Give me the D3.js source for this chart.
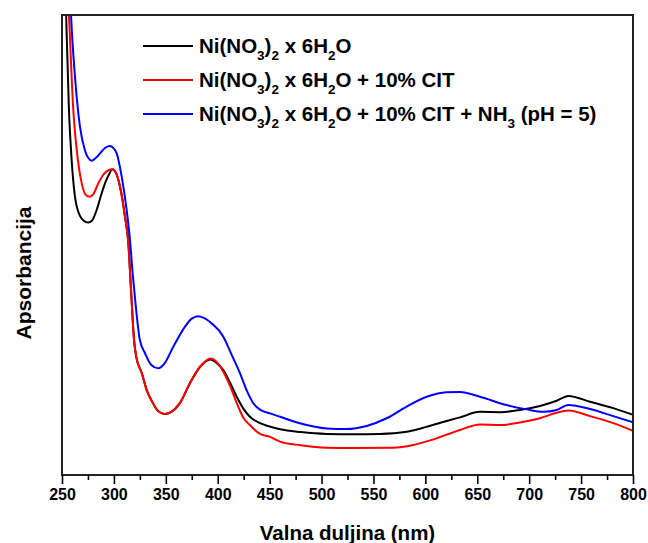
<!DOCTYPE html>
<html>
  <head>
    <meta charset="utf-8">
    <script type="text/javascript" src="https://cdn.jsdelivr.net/npm/d3@7/dist/d3.min.js"></script>
    <style>
      body { margin: 0; background: #fff; }
      text { font-family: "Liberation Sans", Arial, sans-serif; font-weight: bold; fill: #000; }
    </style>
  </head>
  <body>
    <div id="chart"></div>
  </body>
  <script>
  (function (d3) {
    'use strict';

    // wavelengths (nm) and absorbance
    var wlPure = [252, 254, 256.7, 259.3, 262.5, 265, 267.3, 271, 275.3, 279, 283.4, 287, 291.4, 295, 298.4, 302, 305.9, 310.7, 313.9, 316.5, 319.4, 321.5, 326.8, 331.6, 337.7, 341, 345, 349, 355, 363.7, 373.3, 383, 393, 400, 405.4, 412, 418.3, 425, 431, 440.7, 450, 460, 480, 505, 530, 556, 582, 601, 620.5, 633.4, 652.6, 672, 691, 710.4, 726.5, 737.7, 758.6, 781, 800];
    var absPure = [1.75, 1.50, 1.19, 1.027, 0.907, 0.866, 0.845, 0.829, 0.823, 0.830, 0.864, 0.905, 0.951, 0.978, 0.997, 0.985, 0.940, 0.842, 0.756, 0.603, 0.440, 0.385, 0.333, 0.277, 0.234, 0.215, 0.203, 0.199, 0.205, 0.235, 0.300, 0.353, 0.377, 0.362, 0.342, 0.300, 0.255, 0.215, 0.190, 0.169, 0.158, 0.149, 0.140, 0.134, 0.133, 0.134, 0.141, 0.157, 0.176, 0.188, 0.206, 0.205, 0.212, 0.225, 0.242, 0.258, 0.239, 0.218, 0.196];

    var wlCit = [253, 256.7, 260.9, 264.2, 269, 272.5, 276.3, 280, 285, 289, 293, 298.4, 302, 305.9, 310.7, 313.9, 316.5, 319.4, 321.5, 326.8, 331.6, 337.7, 341, 345, 349, 355, 363.7, 373.3, 383, 393, 400, 405.4, 412, 418.3, 425, 431, 440.7, 450, 460, 480, 505, 530, 569, 588.4, 607.6, 633.4, 652.6, 672, 691, 710.4, 726.5, 737.7, 758.6, 781, 800];
    var absCit = [1.75, 1.50, 1.19, 1.060, 0.951, 0.915, 0.907, 0.915, 0.951, 0.975, 0.990, 0.997, 0.985, 0.940, 0.842, 0.756, 0.603, 0.440, 0.385, 0.333, 0.277, 0.234, 0.215, 0.203, 0.199, 0.205, 0.235, 0.300, 0.353, 0.380, 0.365, 0.337, 0.290, 0.235, 0.185, 0.163, 0.134, 0.125, 0.109, 0.097, 0.089, 0.088, 0.089, 0.098, 0.116, 0.147, 0.165, 0.163, 0.171, 0.185, 0.203, 0.210, 0.192, 0.169, 0.144];

    var wlNh3 = [256, 258.7, 262.5, 267.3, 272, 275, 278.6, 283, 288, 292, 296.2, 299.5, 302.7, 307.5, 312.3, 315.5, 318, 320.5, 325, 330, 336, 342.8, 349, 357.2, 368.5, 375, 381.3, 388, 394, 405.4, 413, 421.4, 428, 434.3, 440.7, 450.3, 460, 479, 505, 524, 543.5, 562.7, 582, 601.3, 620.5, 633.4, 652.6, 678.3, 697.6, 713.6, 726.5, 737.7, 758.6, 781, 800];
    var absNh3 = [1.75, 1.50, 1.299, 1.136, 1.060, 1.035, 1.025, 1.035, 1.054, 1.068, 1.073, 1.066, 1.049, 0.973, 0.864, 0.766, 0.66, 0.57, 0.440, 0.397, 0.359, 0.348, 0.365, 0.418, 0.484, 0.510, 0.518, 0.510, 0.495, 0.451, 0.395, 0.332, 0.275, 0.234, 0.213, 0.201, 0.190, 0.169, 0.152, 0.150, 0.160, 0.185, 0.223, 0.255, 0.270, 0.271, 0.255, 0.228, 0.214, 0.206, 0.212, 0.228, 0.215, 0.192, 0.172];

    var seriesColors = ['#000000', '#ff0000', '#0000ff'];
    // legend labels: [text, isSubscript]
    var legendLabels = [
      [['Ni(NO', 0], ['3', 1], [')', 0], ['2', 1], [' x 6H', 0], ['2', 1], ['O', 0]],
      [['Ni(NO', 0], ['3', 1], [')', 0], ['2', 1], [' x 6H', 0], ['2', 1], ['O + 10% CIT', 0]],
      [['Ni(NO', 0], ['3', 1], [')', 0], ['2', 1], [' x 6H', 0], ['2', 1], ['O + 10% CIT + NH', 0], ['3', 1], [' (pH = 5)', 0]]
    ];
    var xTicks = [250, 300, 350, 400, 450, 500, 550, 600, 650, 700, 750, 800];

    var width = 648, height = 543;
    var margin = { top: 15, right: 15, bottom: 68, left: 62 };
    var plotW = width - margin.left - margin.right;
    var plotH = height - margin.top - margin.bottom;

    var svg = d3.select('#chart').append('svg')
      .attr('width', width)
      .attr('height', height);

    var x = d3.scaleLinear().domain([250, 800]).range([0, plotW]);
    var y = d3.scaleLinear().domain([0, 1.5]).range([plotH, 0]);

    var g = svg.append('g')
      .attr('transform', 'translate(' + margin.left + ',' + margin.top + ')');

    g.append('clipPath').attr('id', 'plotclip')
      .append('rect').attr('width', plotW).attr('height', plotH);

    var series = [
      { wl: wlPure, abs: absPure },
      { wl: wlCit, abs: absCit },
      { wl: wlNh3, abs: absNh3 }
    ];

    var line = d3.line()
      .x(function (d) { return x(d[0]); })
      .y(function (d) { return y(d[1]); })
      .curve(d3.curveMonotoneX);

    g.append('g').attr('clip-path', 'url(#plotclip)')
      .selectAll('path')
      .data(series)
      .enter()
      .append('path')
      .attr('d', function (s) { return line(d3.zip(s.wl, s.abs)); })
      .attr('fill', 'none')
      .attr('stroke', function (s, i) { return seriesColors[i]; })
      .attr('stroke-width', 2);

    // frame
    g.append('rect')
      .attr('width', plotW).attr('height', plotH)
      .attr('fill', 'none')
      .attr('stroke', '#222')
      .attr('stroke-width', 2);

    // x axis, minor ticks first
    var minor = d3.range(275, 800, 50);
    g.append('g')
      .attr('transform', 'translate(0,' + plotH + ')')
      .call(d3.axisBottom(x).tickValues(minor).tickSize(5).tickFormat(''))
      .call(function (a) { a.select('.domain').remove(); a.selectAll('line').attr('stroke', '#000').attr('stroke-width', 1.6); });

    g.append('g')
      .attr('transform', 'translate(0,' + plotH + ')')
      .call(d3.axisBottom(x).tickValues(xTicks).tickSize(9).tickPadding(5).tickFormat(d3.format('d')))
      .call(function (a) {
        a.select('.domain').remove();
        a.selectAll('line').attr('stroke', '#000').attr('stroke-width', 1.6);
        a.selectAll('text').style('font-size', '16px').style('font-family', '"Liberation Sans", Arial, sans-serif').style('font-weight', 'bold');
      });

    svg.append('text')
      .attr('x', margin.left + plotW / 2)
      .attr('y', 540)
      .attr('text-anchor', 'middle')
      .style('font-size', '20.5px')
      .text('Valna duljina (nm)');

    svg.append('text')
      .attr('transform', 'translate(31,273) rotate(-90)')
      .attr('text-anchor', 'middle')
      .style('font-size', '21px')
      .text('Apsorbancija');

    // legend
    var legend = svg.selectAll('.legend')
      .data(legendLabels)
      .enter()
      .append('g')
      .attr('class', 'legend')
      .attr('transform', function (d, i) { return 'translate(143,' + (46 + i * 34) + ')'; });

    legend.append('line')
      .attr('x1', 0).attr('x2', 50)
      .attr('stroke', function (d, i) { return seriesColors[i]; })
      .attr('stroke-width', 2);

    var lt = legend.append('text')
      .attr('x', 56)
      .attr('y', 7)
      .style('font-size', '20.5px');

    lt.selectAll('tspan')
      .data(function (d) { return d; })
      .enter()
      .append('tspan')
      .style('font-size', function (p) { return p[1] ? '13.5px' : '20.5px'; })
      .attr('dy', function (p, i, nodes) {
        var prev = i > 0 ? d3.select(nodes[i - 1]).datum()[1] : 0;
        return (p[1] - prev) * 7;
      })
      .text(function (p) { return p[0]; });

  })(window.d3);
  </script>
</html>
